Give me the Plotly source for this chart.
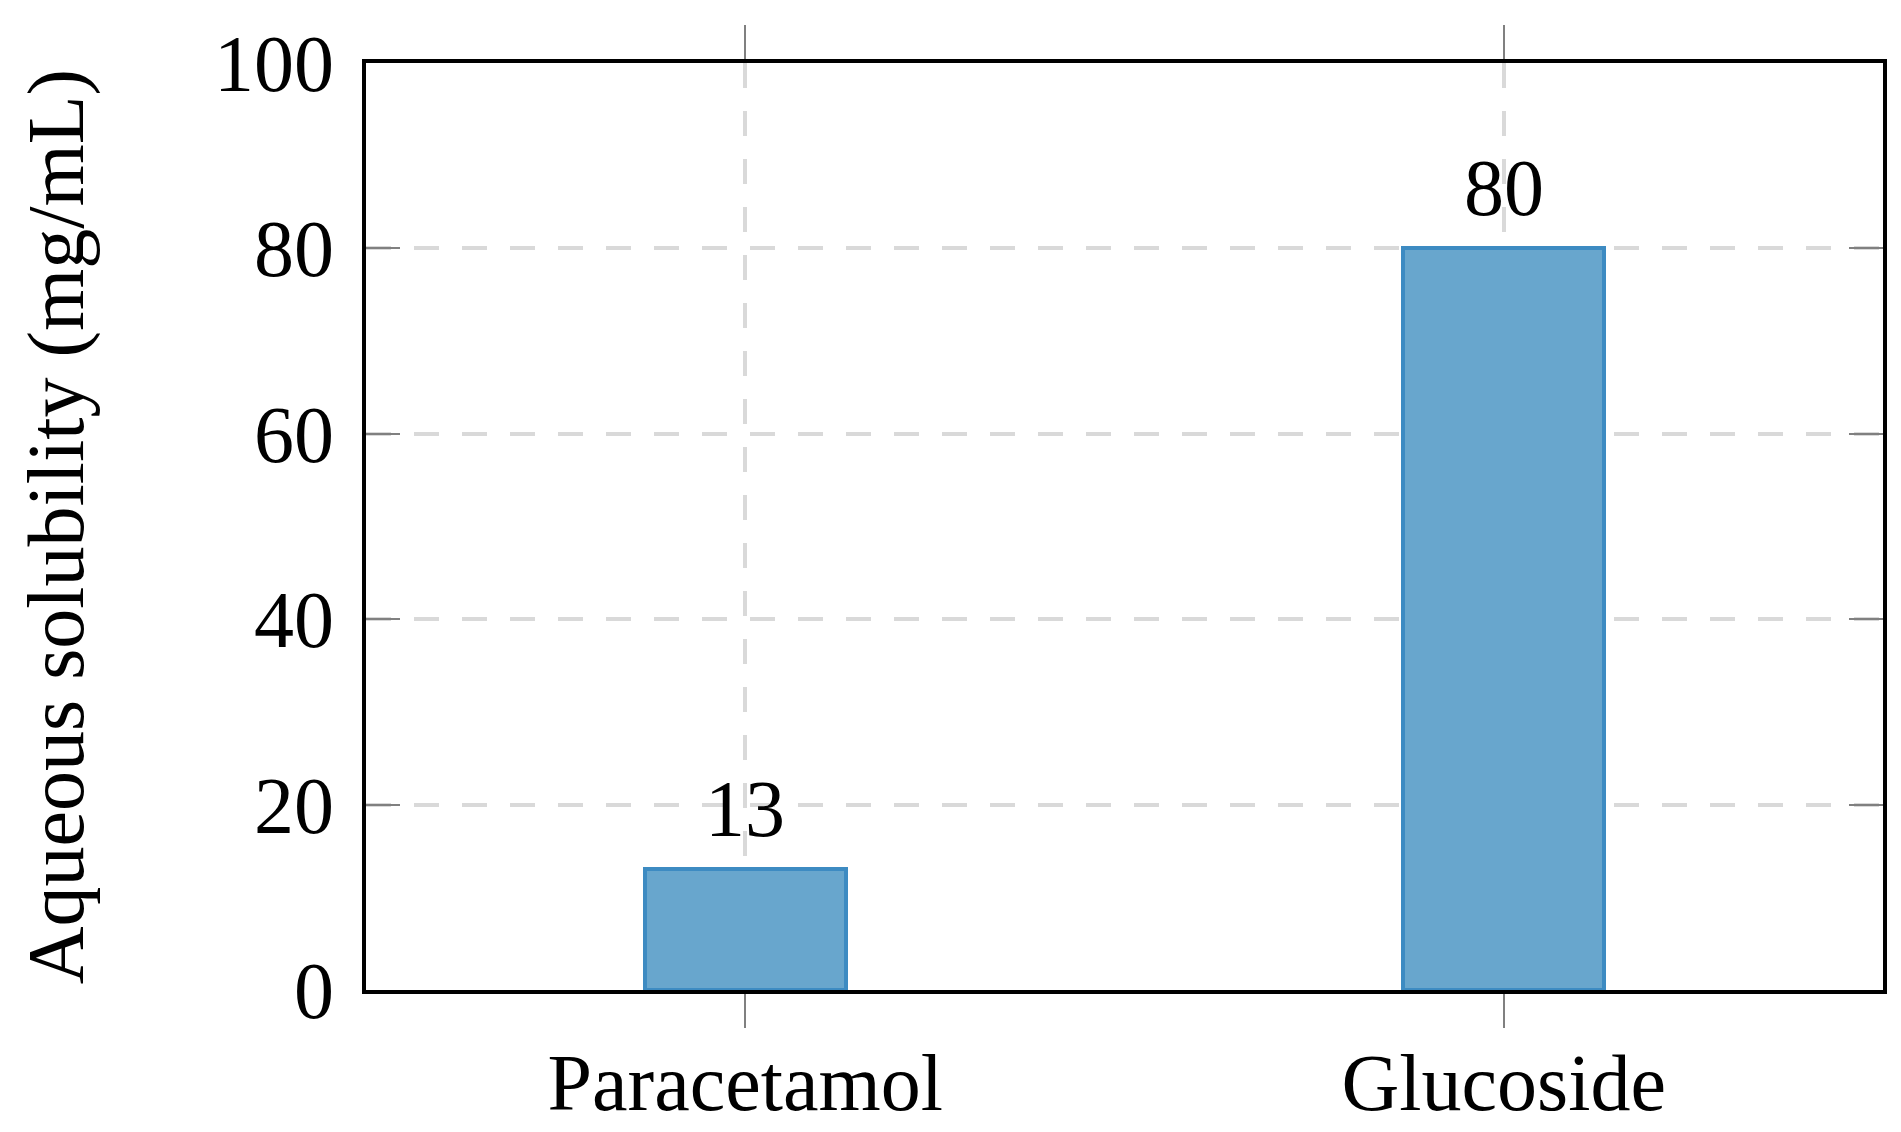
import plotly.graph_objects as go

categories = ["Paracetamol", "Glucoside"]
solubility = [13, 80]
y_ticks = [0, 20, 40, 60, 80, 100]

FONT = "Liberation Serif"
FS = 80

fig = go.Figure()
fig.add_trace(go.Bar(
    x=categories,
    y=solubility,
    width=0.265,
    marker=dict(color="#68a6cd", line=dict(color="#3d8bc2", width=4)),
    showlegend=False,
))

for c, v in zip(categories, solubility):
    fig.add_annotation(x=c, y=v, text=str(v), showarrow=False,
                       yanchor="bottom", yshift=14,
                       font=dict(family=FONT, size=FS, color="black"))

fig.update_layout(
    width=1901, height=1132,
    margin=dict(l=358, r=26, t=55, b=150),
    paper_bgcolor="white", plot_bgcolor="white",
    font=dict(family=FONT, size=FS, color="black"),
    bargap=0,
)
fig.update_xaxes(
    range=[-0.5, 1.5], automargin=False,
    showline=True, linecolor="black", linewidth=4, mirror="ticks",
    ticks="outside", ticklen=34, tickwidth=2, tickcolor="#808080",
    showgrid=True, gridcolor="#d9d9d9", gridwidth=4, griddash="25px,23px",
    tickfont=dict(family=FONT, size=FS), ticklabelstandoff=-14,
    zeroline=False,
)
fig.update_yaxes(
    range=[0, 100], tickvals=y_ticks, automargin=False,
    showline=True, linecolor="black", linewidth=4, mirror="ticks",
    ticks="inside", ticklen=34, tickwidth=2, tickcolor="#808080",
    showgrid=True, gridcolor="#d9d9d9", gridwidth=4, griddash="25px,23px",
    tickfont=dict(family=FONT, size=FS), ticklabelstandoff=12,
    zeroline=False,
    title=dict(text="Aqueous solubility (mg/mL)", font=dict(family=FONT, size=FS), standoff=105),
)

fig.write_html("out.html")
